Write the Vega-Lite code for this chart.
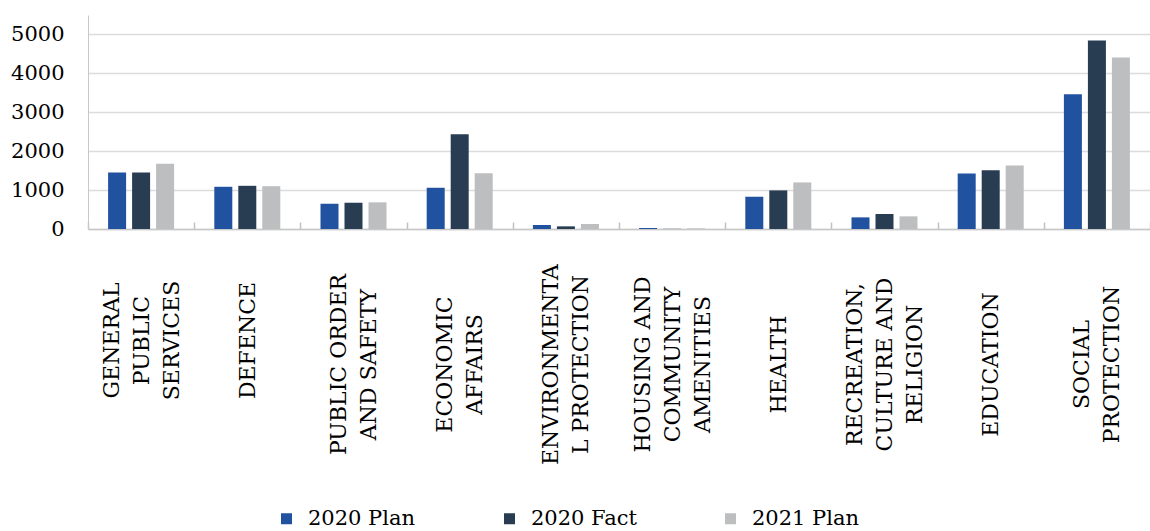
{
  "$schema": "https://vega.github.io/schema/vega-lite/v6.json",
  "width": 1062,
  "height": 214,
  "autosize": {"type": "none"},
  "padding": {"left": 88, "top": 15, "right": 0, "bottom": 302},
  "background": "white",
  "config": {"view": {"stroke": null}, "font": "DejaVu Serif"},
  "data": {
    "values": [
      {"category": "GENERAL|PUBLIC|SERVICES", "series": "2020 Plan", "value": 1454},
      {"category": "GENERAL|PUBLIC|SERVICES", "series": "2020 Fact", "value": 1454},
      {"category": "GENERAL|PUBLIC|SERVICES", "series": "2021 Plan", "value": 1675},
      {"category": "DEFENCE", "series": "2020 Plan", "value": 1085},
      {"category": "DEFENCE", "series": "2020 Fact", "value": 1110},
      {"category": "DEFENCE", "series": "2021 Plan", "value": 1100},
      {"category": "PUBLIC ORDER|AND SAFETY", "series": "2020 Plan", "value": 649},
      {"category": "PUBLIC ORDER|AND SAFETY", "series": "2020 Fact", "value": 675},
      {"category": "PUBLIC ORDER|AND SAFETY", "series": "2021 Plan", "value": 685},
      {"category": "ECONOMIC|AFFAIRS", "series": "2020 Plan", "value": 1060},
      {"category": "ECONOMIC|AFFAIRS", "series": "2020 Fact", "value": 2436},
      {"category": "ECONOMIC|AFFAIRS", "series": "2021 Plan", "value": 1436},
      {"category": "ENVIRONMENTA|L PROTECTION", "series": "2020 Plan", "value": 103},
      {"category": "ENVIRONMENTA|L PROTECTION", "series": "2020 Fact", "value": 68},
      {"category": "ENVIRONMENTA|L PROTECTION", "series": "2021 Plan", "value": 128},
      {"category": "HOUSING AND|COMMUNITY|AMENITIES", "series": "2020 Plan", "value": 26},
      {"category": "HOUSING AND|COMMUNITY|AMENITIES", "series": "2020 Fact", "value": 5},
      {"category": "HOUSING AND|COMMUNITY|AMENITIES", "series": "2021 Plan", "value": 15},
      {"category": "HEALTH", "series": "2020 Plan", "value": 829},
      {"category": "HEALTH", "series": "2020 Fact", "value": 992},
      {"category": "HEALTH", "series": "2021 Plan", "value": 1197},
      {"category": "RECREATION,|CULTURE AND|RELIGION", "series": "2020 Plan", "value": 299},
      {"category": "RECREATION,|CULTURE AND|RELIGION", "series": "2020 Fact", "value": 385},
      {"category": "RECREATION,|CULTURE AND|RELIGION", "series": "2021 Plan", "value": 325},
      {"category": "EDUCATION", "series": "2020 Plan", "value": 1427},
      {"category": "EDUCATION", "series": "2020 Fact", "value": 1513},
      {"category": "EDUCATION", "series": "2021 Plan", "value": 1632},
      {"category": "SOCIAL|PROTECTION", "series": "2020 Plan", "value": 3462},
      {"category": "SOCIAL|PROTECTION", "series": "2020 Fact", "value": 4846},
      {"category": "SOCIAL|PROTECTION", "series": "2021 Plan", "value": 4410}
    ]
  },
  "mark": {"type": "bar"},
  "encoding": {
    "x": {
      "field": "category",
      "type": "nominal",
      "sort": null,
      "scale": {"paddingInner": 0, "paddingOuter": 0},
      "axis": {
        "title": null,
        "grid": false,
        "domain": true,
        "domainColor": "#c8c8c8",
        "domainWidth": 1.5,
        "ticks": true,
        "tickBand": "extent",
        "tickSize": -7,
        "tickColor": "#c0c0c0",
        "tickWidth": 1.5,
        "labelAngle": -90,
        "labelAlign": "center",
        "labelBaseline": "middle",
        "labelPadding": {
          "condition": {"test": "datum.label == 'GENERAL|PUBLIC|SERVICES' || datum.label == 'DEFENCE'", "value": 118},
          "value": 142
        },
        "labelOffset": {
          "condition": [
            {"test": "length(split(datum.label, '|')) == 1", "value": 0},
            {"test": "length(split(datum.label, '|')) == 2", "value": -15}
          ],
          "value": -30
        },
        "labelFont": "DejaVu Serif",
        "labelFontSize": 22,
        "labelLineHeight": 30,
        "labelColor": "#000000",
        "labelLimit": 0,
        "labelOverlap": false,
        "labelExpr": "split(datum.label, '|')"
      }
    },
    "xOffset": {
      "field": "series",
      "type": "nominal",
      "sort": ["2020 Plan", "2020 Fact", "2021 Plan"],
      "scale": {"paddingInner": 0.25, "paddingOuter": 0.8375}
    },
    "y": {
      "field": "value",
      "type": "quantitative",
      "scale": {"domain": [0, 5500], "nice": false},
      "axis": {
        "title": null,
        "values": [0, 1000, 2000, 3000, 4000, 5000],
        "format": "d",
        "grid": true,
        "gridColor": "#dcdcdc",
        "gridWidth": 1.5,
        "domain": true,
        "domainColor": "#c8c8c8",
        "domainWidth": 1,
        "ticks": false,
        "labelPadding": 24,
        "labelFont": "DejaVu Serif",
        "labelFontSize": 21,
        "labelColor": "#000000"
      }
    },
    "color": {
      "field": "series",
      "type": "nominal",
      "sort": ["2020 Plan", "2020 Fact", "2021 Plan"],
      "scale": {
        "domain": ["2020 Plan", "2020 Fact", "2021 Plan"],
        "range": ["#2052a0", "#283c52", "#bdbec0"]
      },
      "legend": {
        "title": null,
        "orient": "none",
        "legendX": 188,
        "legendY": 493,
        "direction": "horizontal",
        "columns": 3,
        "columnPadding": 83,
        "symbolType": "square",
        "symbolSize": 121,
        "symbolStrokeWidth": 0,
        "labelFont": "DejaVu Serif",
        "labelFontSize": 21,
        "labelOffset": 11,
        "labelColor": "#000000"
      }
    }
  }
}
